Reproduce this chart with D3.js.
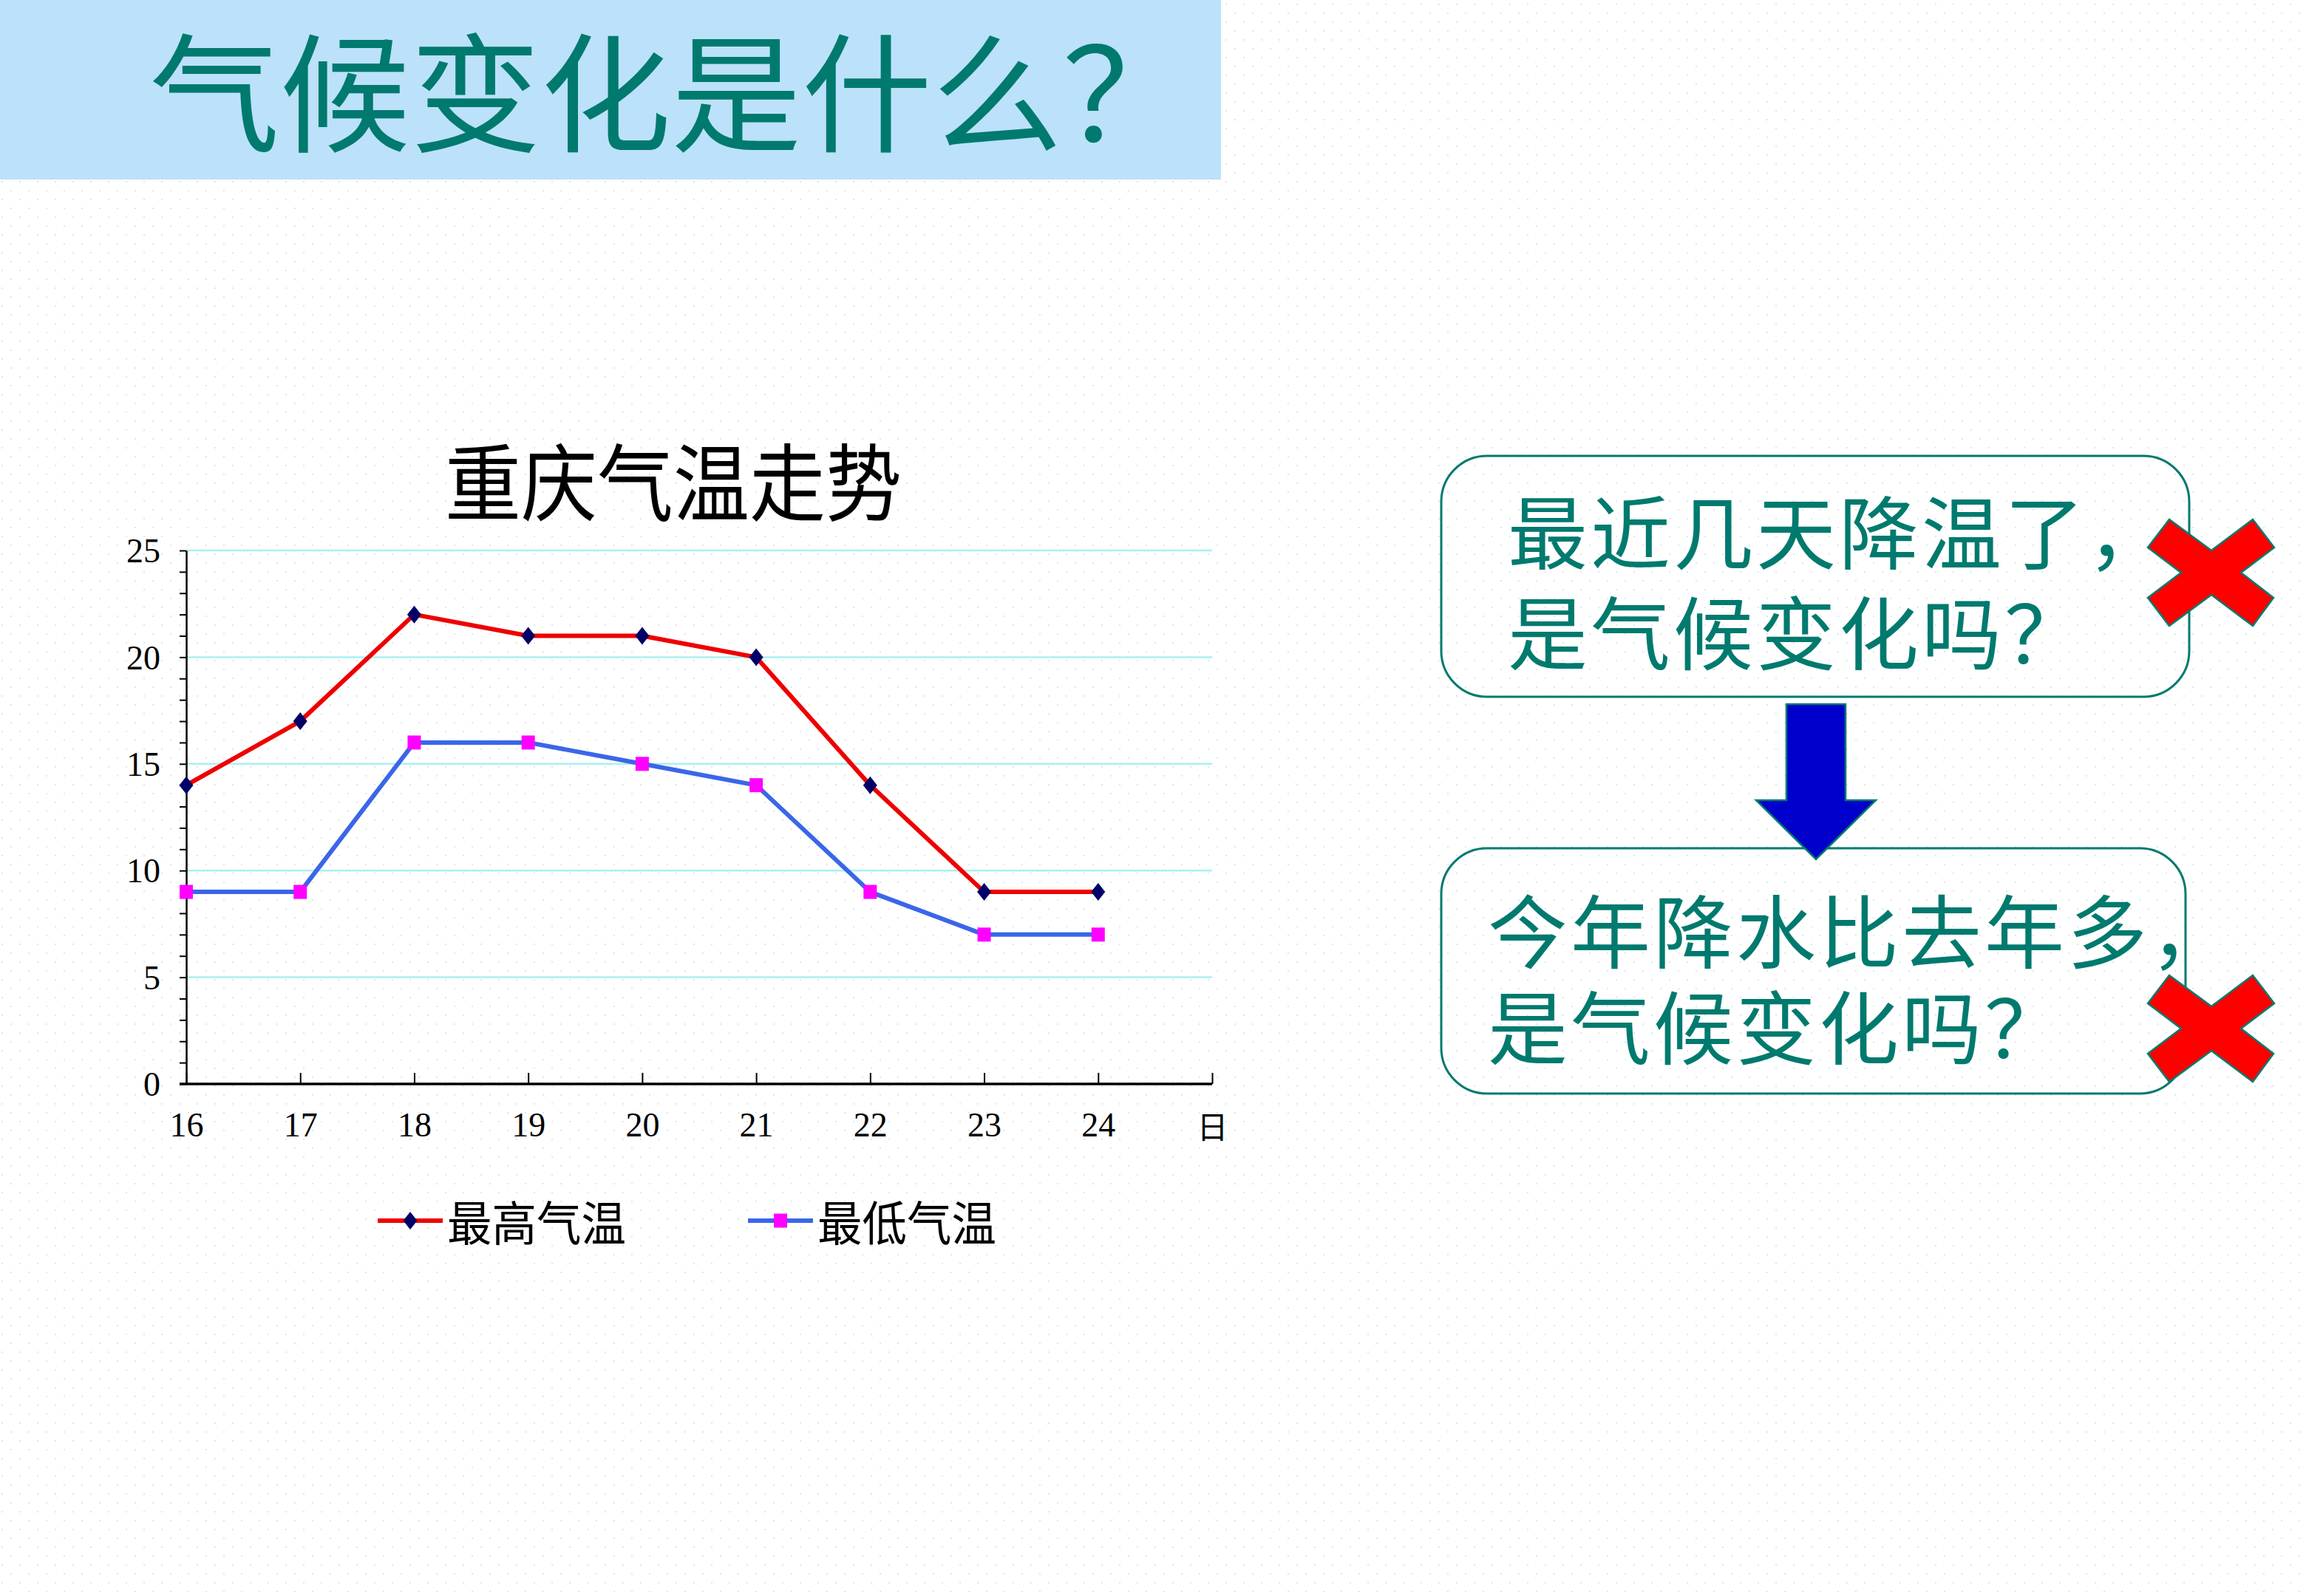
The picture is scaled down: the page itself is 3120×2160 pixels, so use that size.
<!DOCTYPE html>
<html>
<head>
<meta charset="utf-8">
<script src="https://cdn.jsdelivr.net/npm/d3@7"></script>
<style>
    body { margin: 0; background: #fff; }
    svg { display: block; }
</style>
</head>
<body>
<div id="slide"></div>
<script>
// 数据
const days = [16, 17, 18, 19, 20, 21, 22, 23, 24]
const maxTemp = [14, 17, 22, 21, 21, 20, 14, 9, 9]
const minTemp = [9, 9, 16, 16, 15, 14, 9, 7, 7]
const yTicks = [0, 5, 10, 15, 20, 25]
const xEndLabel = '日'
const seriesNames = ['最高气温', '最低气温']

const pageTitle = '气候变化是什么？'
const chartTitle = '重庆气温走势'
const question1 = ['最近几天降温了，', '是气候变化吗？']
const question2 = ['今年降水比去年多，', '是气候变化吗？']

const width = 3120
const height = 2160
const teal = '#007a6e'
const cjk = '"Noto Sans CJK SC", sans-serif'
const serif = '"Liberation Serif", "DejaVu Serif", serif'

const svg = d3.select('#slide').append('svg')
    .attr('width', width)
    .attr('height', height)

// 背景点阵
const defs = svg.append('defs')
const pat = defs.append('pattern')
    .attr('id', 'dots')
    .attr('width', 24)
    .attr('height', 24)
    .attr('patternUnits', 'userSpaceOnUse')
pat.append('rect').attr('x', 2).attr('y', 5).attr('width', 2).attr('height', 2).attr('fill', '#dbe7f1')
pat.append('rect').attr('x', 14).attr('y', 17).attr('width', 2).attr('height', 2).attr('fill', '#dbe7f1')

svg.append('rect').attr('width', width).attr('height', height).attr('fill', '#fff')
svg.append('rect').attr('width', width).attr('height', height).attr('fill', 'url(#dots)')

// 标题栏
svg.append('rect')
    .attr('x', 0).attr('y', 0)
    .attr('width', 1652).attr('height', 243)
    .attr('fill', '#bce1fa')

svg.append('text')
    .attr('x', 202)
    .attr('y', 192)
    .attr('font-family', cjk)
    .attr('font-size', 174)
    .attr('fill', teal)
    .attr('textLength', 1412)
    .attr('lengthAdjust', 'spacingAndGlyphs')
    .text(pageTitle)

// ---------- 折线图 ----------
const plot = {left: 252, right: 1640, top: 745, bottom: 1467}

const xScale = d3.scaleLinear()
    .domain([days[0], days[days.length - 1] + 1])
    .range([plot.left, plot.right])

const yScale = d3.scaleLinear()
    .domain([0, d3.max(yTicks)])
    .range([plot.bottom, plot.top])

const g = svg.append('g').attr('class', 'chart')

// 网格线
g.append('g').selectAll('line')
    .data(yTicks.filter(d => d > 0))
    .join('line')
    .attr('x1', plot.left)
    .attr('x2', plot.right)
    .attr('y1', d => yScale(d))
    .attr('y2', d => yScale(d))
    .attr('stroke', '#a9f1f1')
    .attr('stroke-width', 2.5)

// y轴：每1一个小刻度，每5一个标签
const yAxis = d3.axisLeft(yScale)
    .tickValues(d3.range(0, d3.max(yTicks) + 1))
    .tickSizeInner(9)
    .tickSizeOuter(0)
    .tickPadding(26)
    .tickFormat(d => yTicks.includes(d) ? d : '')

const yAxisG = g.append('g')
    .attr('transform', `translate(${plot.left},0)`)
    .call(yAxis)
yAxisG.select('.domain').attr('stroke', '#000').attr('stroke-width', 2.5)
yAxisG.selectAll('.tick line').attr('stroke', '#000').attr('stroke-width', 2)
yAxisG.selectAll('.tick text')
    .attr('font-family', serif)
    .attr('font-size', 46)
    .attr('fill', '#000')
    .attr('dy', '0.34em')

// x轴：刻度朝内
const xTickValues = days.concat([days[days.length - 1] + 1])
const xAxis = d3.axisBottom(xScale)
    .tickValues(xTickValues)
    .tickSizeInner(-15)
    .tickSizeOuter(0)
    .tickPadding(38)
    .tickFormat(d => days.includes(d) ? d : xEndLabel)

const xAxisG = g.append('g')
    .attr('transform', `translate(0,${plot.bottom})`)
    .call(xAxis)
xAxisG.select('.domain').remove()
xAxisG.append('line')
    .attr('x1', plot.left - 9)
    .attr('x2', plot.right)
    .attr('stroke', '#000')
    .attr('stroke-width', 3.5)
xAxisG.selectAll('.tick line').attr('stroke', '#000').attr('stroke-width', 2)
xAxisG.selectAll('.tick text')
    .attr('font-family', d => days.includes(d) ? serif : cjk)
    .attr('font-size', d => days.includes(d) ? 46 : 42)
    .attr('dy', d => days.includes(d) ? '0.71em' : '0.85em')
    .attr('fill', '#000')

// 折线
const series = [
    {name: seriesNames[0], values: maxTemp, line: '#ee0000', mark: '#000066', shape: 'diamond'},
    {name: seriesNames[1], values: minTemp, line: '#3a66e8', mark: '#ff00ff', shape: 'square'}
]

const lineGen = d3.line()
    .x((d, i) => xScale(days[i]))
    .y(d => yScale(d))

const diamond = 'M0,-12L9.5,0L0,12L-9.5,0Z'
const square = 'M-9,-9.5H9V9.5H-9Z'

series.forEach(s => {
    g.append('path')
        .attr('d', lineGen(s.values))
        .attr('fill', 'none')
        .attr('stroke', s.line)
        .attr('stroke-width', 6)
        .attr('stroke-linejoin', 'round')

    g.append('g').selectAll('path')
        .data(s.values)
        .join('path')
        .attr('transform', (d, i) => `translate(${xScale(days[i])},${yScale(d)})`)
        .attr('d', s.shape == 'diamond' ? diamond : square)
        .attr('fill', s.mark)
})

// 图表标题
svg.append('text')
    .attr('x', 911)
    .attr('y', 696)
    .attr('text-anchor', 'middle')
    .attr('font-family', cjk)
    .attr('font-size', 114)
    .attr('fill', '#000')
    .attr('textLength', 618)
    .attr('lengthAdjust', 'spacingAndGlyphs')
    .text(chartTitle)

// 图例
const legendX = [511, 1012]
const legendG = svg.append('g').attr('class', 'legend')
series.forEach((s, i) => {
    const lg = legendG.append('g').attr('transform', `translate(${legendX[i]},1652)`)
    lg.append('line')
        .attr('x1', 0).attr('x2', 88)
        .attr('stroke', s.line)
        .attr('stroke-width', 6)
    lg.append('path')
        .attr('transform', 'translate(44,0)')
        .attr('d', s.shape == 'diamond' ? diamond : square)
        .attr('fill', s.mark)
    lg.append('text')
        .attr('x', 94)
        .attr('y', 27)
        .attr('font-family', cjk)
        .attr('font-size', 64)
        .attr('fill', '#000')
        .attr('textLength', 242)
        .attr('lengthAdjust', 'spacingAndGlyphs')
        .text(s.name)
})

// ---------- 右侧问题框 ----------
const boxes = [
    {x: 1950, y: 617, w: 1012, h: 326, lines: question1, tx: 2040, ty: [762, 898]},
    {x: 1950, y: 1148, w: 1007, h: 332, lines: question2, tx: 2013, ty: [1302, 1432]}
]

boxes.forEach(b => {
    svg.append('rect')
        .attr('x', b.x).attr('y', b.y)
        .attr('width', b.w).attr('height', b.h)
        .attr('rx', 62)
        .attr('fill', 'none')
        .attr('stroke', teal)
        .attr('stroke-width', 3)

    svg.append('g').selectAll('text')
        .data(b.lines)
        .join('text')
        .attr('x', b.tx)
        .attr('y', (d, i) => b.ty[i])
        .attr('font-family', cjk)
        .attr('font-size', 108)
        .attr('letter-spacing', 4)
        .attr('fill', teal)
        .text(d => d)
})

// 向下箭头
const arrow = [[2417, 953], [2497, 953], [2497, 1083], [2538, 1083], [2457, 1163], [2376, 1083], [2417, 1083]]
svg.append('path')
    .attr('d', d3.line()(arrow) + 'Z')
    .attr('fill', '#0000cc')
    .attr('stroke', teal)
    .attr('stroke-width', 2.5)

// 红叉
const cross = [[-57, -72], [0, -30], [56, -72], [85, -34], [40, 0], [84, 34], [56, 72], [0, 30], [-57, 72], [-86, 34], [-41, 0], [-86, -34]]
const crossCenters = [[2992, 775], [2992, 1392]]
svg.append('g').selectAll('path')
    .data(crossCenters)
    .join('path')
    .attr('transform', d => `translate(${d[0]},${d[1]})`)
    .attr('d', d3.line()(cross) + 'Z')
    .attr('fill', '#ff0000')
    .attr('stroke', teal)
    .attr('stroke-width', 2.5)
</script>
</body>
</html>
